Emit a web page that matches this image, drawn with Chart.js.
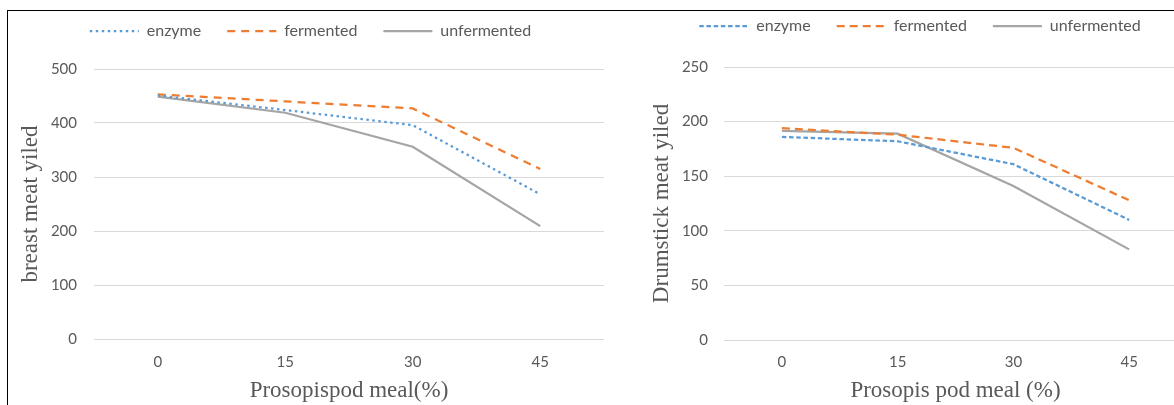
<!DOCTYPE html>
<html>
<head>
<meta charset="utf-8">
<script src="https://cdn.jsdelivr.net/npm/chart.js@4.4.1/dist/chart.umd.min.js"></script>
<style>
  html, body { margin: 0; padding: 0; background: #fff; width: 1174px; height: 405px; overflow: hidden; position: relative; }
  .frame { position: absolute; left: 7px; top: 10px; width: 1200px; height: 420px;
           border-top: 1px solid #000; border-left: 1px solid #000; z-index: 2; pointer-events: none; }
  canvas { position: absolute; }
  #breastChart { left: 17px; top: -3px; }
  #drumChart { left: 653px; top: -8px; }
</style>
</head>
<body>
<div class="frame"></div>
<canvas id="breastChart" width="587" height="408"></canvas>
<canvas id="drumChart" width="534" height="413"></canvas>
<script>
// prosopis pod meal levels (%)
const levels = ['0', '15', '30', '45'];

// breast meat yield
const breastEnzyme = [451, 424, 396, 268];
const breastFermented = [453, 440, 427, 315];
const breastUnfermented = [449, 419, 356, 209];

// drumstick meat yield
const drumEnzyme = [186, 182, 161, 110];
const drumFermented = [194, 188, 176, 128];
const drumUnfermented = [191.5, 189, 141, 83];

const seriesNames = ['enzyme', 'fermented', 'unfermented'];
const COLORS = ['#5B9BD5', '#ED7D31', '#A5A5A5'];
const TEXT = '#595959';

Chart.defaults.font.family = 'Lato';

// legend gets a fixed height so the plot starts where it should
function legendSpacer(h) {
    return {
        id: 'legendSpacer',
        beforeInit(chart) {
            const fit = chart.legend.fit;
            chart.legend.fit = function () {
                fit.call(this);
                this.height = h;
            };
        }
    };
}

// point-style legend takes its style from the points, so copy the line style back in
function lineLegendLabels(chart) {
    return Chart.defaults.plugins.legend.labels.generateLabels(chart).map(item => {
        const ds = chart.data.datasets[item.datasetIndex];
        item.lineDash = ds.borderDash;
        item.lineWidth = ds.borderWidth;
        item.strokeStyle = ds.borderColor;
        return item;
    });
}

function makeChart(id, cfg) {
    const ctx = document.getElementById(id).getContext('2d');
    const datasets = cfg.series.map((vals, i) => ({
        label: seriesNames[i],
        data: vals,
        borderColor: COLORS[i],
        backgroundColor: COLORS[i],
        borderWidth: 2.25,
        borderDash: cfg.dashes[i],
        pointRadius: 0,
        tension: 0,
        fill: false
    }));

    return new Chart(ctx, {
        type: 'line',
        data: { labels: levels, datasets },
        plugins: [legendSpacer(cfg.legendHeight)],
        options: {
            responsive: false,
            animation: false,
            layout: { padding: 0 },
            plugins: {
                tooltip: { enabled: false },
                legend: {
                    position: 'top',
                    labels: {
                        usePointStyle: true,
                        pointStyle: 'line',
                        pointStyleWidth: 49,
                        padding: 26,
                        color: TEXT,
                        font: { size: 16 },
                        generateLabels: lineLegendLabels
                    }
                }
            },
            scales: {
                x: {
                    type: 'category',
                    offset: true,
                    grid: { display: false, drawTicks: false },
                    border: { display: false },
                    ticks: { color: TEXT, font: { size: 15 }, padding: cfg.xTickPad },
                    title: {
                        display: true,
                        text: cfg.xTitle,
                        color: TEXT,
                        font: { family: 'Liberation Serif', size: 23 },
                        padding: 0
                    },
                    afterFit: s => { s.height = cfg.xHeight; }
                },
                y: {
                    min: 0,
                    max: cfg.yMax,
                    ticks: { stepSize: cfg.yStep, color: TEXT, font: { size: 15 }, padding: cfg.yTickPad },
                    grid: { color: '#D9D9D9', lineWidth: 1, drawTicks: false },
                    border: { display: false },
                    title: {
                        display: true,
                        text: cfg.yTitle,
                        color: TEXT,
                        font: { family: 'Liberation Serif', size: 23 },
                        padding: { top: cfg.yTitlePad, bottom: 0 }
                    },
                    afterFit: s => { s.width = cfg.yWidth; }
                }
            }
        }
    });
}

makeChart('breastChart', {
    series: [breastEnzyme, breastFermented, breastUnfermented],
    dashes: [[2.5, 3.5], [8, 6], []],
    xTitle: 'Prosopispod meal(%)',
    yTitle: 'breast meat yiled',
    yMax: 500, yStep: 100,
    legendHeight: 72, xHeight: 66, yWidth: 77,
    xTickPad: 14.5, yTickPad: 17, yTitlePad: 0
});

makeChart('drumChart', {
    series: [drumEnzyme, drumFermented, drumUnfermented],
    dashes: [[4.5, 2.7], [8, 5], []],
    xTitle: 'Prosopis pod meal (%)',
    yTitle: 'Drumstick meat yiled',
    yMax: 250, yStep: 50,
    legendHeight: 75, xHeight: 65, yWidth: 71,
    xTickPad: 13, yTickPad: 16, yTitlePad: -5
});
</script>
</body>
</html>
